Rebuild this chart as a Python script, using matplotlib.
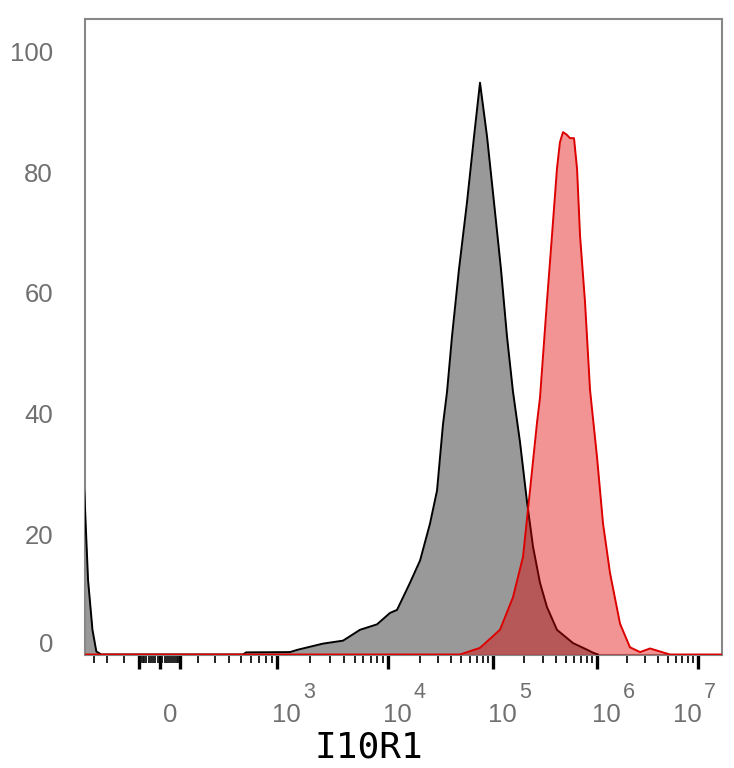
import numpy as np
import matplotlib
matplotlib.use('Agg')
import matplotlib.pyplot as plt
from matplotlib.ticker import FixedLocator, NullFormatter

plt.rcParams['font.family'] = ['Liberation Sans', 'DejaVu Sans']

# ---------------- data ----------------
gray_x = [-480, -465, -440, -410, -380, -340, 520, 550, 1310, 1546, 2590, 3940,
          5600, 7960, 10450, 12190, 16200, 20200, 25100, 29300, 33400, 36500,
          40700, 47400, 56500, 65900, 75200, 87700, 102300, 119400, 136300,
          155700, 181700, 212500, 242500, 283000, 330000, 412000, 587000,
          801000, 915000, 1020000]
gray_y = [32, 26, 12.4, 4.1, 0.5, 0, 0, 0.35, 0.4, 0.8, 1.8, 2.3,
          4.1, 5.0, 6.9, 7.4, 11.9, 15.6, 21.7, 27.2, 38.2, 43.6,
          52.8, 63.9, 75, 85.9, 94.9, 86, 75, 63.9, 52.8,
          43.6, 35.3, 25.3, 17.9, 11.9, 7.9, 4.1, 1.9,
          0.8, 0.3, 0]

red_x = [-480, 48500, 75200, 116700, 155700, 194300, 227000, 265000, 283000,
         330000, 369000, 412000, 440000, 471000, 510000, 550000, 601000,
         643000, 687000, 767000, 857000, 1.0e6, 1.146e6, 1.346e6, 1.692e6,
         2.12e6, 2.67e6, 3.35e6, 4.2e6, 5.28e6, 1.7e7]
red_y = [0, 0, 1.1, 4.1, 9.5, 16.2, 27.3, 38.5, 42.6,
         58.5, 69.5, 80.6, 85, 86.7, 86.3, 85.7, 85.7,
         80.6, 69.5, 58.5, 43.9, 32.8, 21.8, 13.5, 5.1,
         1.2, 0.4, 1.0, 0.5, 0, 0]

y_ticks = [0, 20, 40, 60, 80, 100]
x_label = 'I10R1'
decade_exps = [3, 4, 5, 6, 7]

# ---------------- biexponential-like axis scale ----------------
KX = np.array([-5000, -500, -400, -300, -200, -100, 0, 100, 200, 300, 400, 500,
               700, 1e3, 1e4, 1e5, 1e6, 1e7, 1e8])
KP = np.array([-25, 80, 94, 107, 124, 139, 160, 180, 198, 215, 229, 241,
               259, 277, 388, 493, 597, 698, 799], dtype=float)
KG = np.arcsinh(KX / 100.0)


def fwd(x):
    return np.interp(np.arcsinh(np.asarray(x, dtype=float) / 100.0), KG, KP)


def inv(p):
    return 100.0 * np.sinh(np.interp(np.asarray(p, dtype=float), KP, KG))


W, H = 734, 768
fig = plt.figure(figsize=(W / 100, H / 100), dpi=100)
ax_l, ax_r, ax_t, ax_b = 85, 721.5, 18.7, 654.5
ax = fig.add_axes([ax_l / W, (H - ax_b) / H, (ax_r - ax_l) / W, (ax_b - ax_t) / H])
ax.set_xscale('function', functions=(fwd, inv))
ax.set_xlim(float(inv(ax_l)), float(inv(ax_r)))
ax.set_ylim(0, (ax_b - ax_t) / 6.025)

# histograms
ax.fill_between(gray_x, gray_y, 0, color='#999999', lw=0, zorder=2)
ax.plot(gray_x, gray_y, color='black', lw=1.4, zorder=3)
ax.fill_between(red_x, red_y, 0, color='#e00000', alpha=0.42, lw=0, zorder=4)
ax.plot(red_x, red_y, color='#dd0000', lw=1.4, zorder=5)

for s in ax.spines.values():
    s.set_color('#888888')
    s.set_linewidth(1.5)

# x ticks
major = [-100, 0, 100] + [10.0 ** e for e in decade_exps]
minor = [-400, -300, -200] + list(range(-90, 0, 10)) + list(range(10, 100, 10)) \
    + list(range(200, 1000, 100))
for e in range(3, 7):
    minor += [k * 10.0 ** e for k in range(2, 10)]
ax.xaxis.set_major_locator(FixedLocator(major))
ax.xaxis.set_minor_locator(FixedLocator(minor))
ax.xaxis.set_major_formatter(NullFormatter())
ax.xaxis.set_minor_formatter(NullFormatter())
ax.tick_params(axis='x', which='major', direction='out', length=10, width=2.4, color='black')
ax.tick_params(axis='x', which='minor', direction='out', length=5.8, width=1.3, color='#111111')

# y ticks
ax.set_yticks(y_ticks)
ax.set_yticklabels([''] + [str(v) for v in y_ticks[1:]])
ax.tick_params(axis='y', length=0, pad=23, labelsize=18.5, labelcolor='#707070')
ax.annotate('0', xy=(0, 0), xycoords=('axes fraction', 'data'), xytext=(-32, 11.5),
            textcoords='offset pixels', ha='right', va='center_baseline',
            fontsize=18.5, color='#707070', annotation_clip=False)

# x tick labels (FlowJo style)
lab_col = '#707070'
base_dy = -(722 - ax_b)
sup_dy = -(698 - ax_b)
ax.annotate('0', xy=(0, 0), xycoords=('data', 'axes fraction'), xytext=(3, base_dy),
            textcoords='offset pixels', ha='left', va='baseline', fontsize=18.5,
            color=lab_col, annotation_clip=False)
for e in decade_exps:
    dx = -5 if e < 7 else -25
    ax.annotate('10', xy=(10.0 ** e, 0), xycoords=('data', 'axes fraction'),
                xytext=(dx, base_dy), textcoords='offset pixels', ha='left',
                va='baseline', fontsize=18.5, color=lab_col, annotation_clip=False)
    ax.annotate(str(e), xy=(10.0 ** e, 0), xycoords=('data', 'axes fraction'),
                xytext=(dx + 31, sup_dy), textcoords='offset pixels', ha='left',
                va='baseline', fontsize=15.5, color=lab_col, annotation_clip=False)

fig.text(368.5 / W, (H - 758) / H, x_label, family='DejaVu Sans Mono', fontsize=26,
         ha='center', va='baseline', color='black')

fig.savefig('out.png', dpi=100)
